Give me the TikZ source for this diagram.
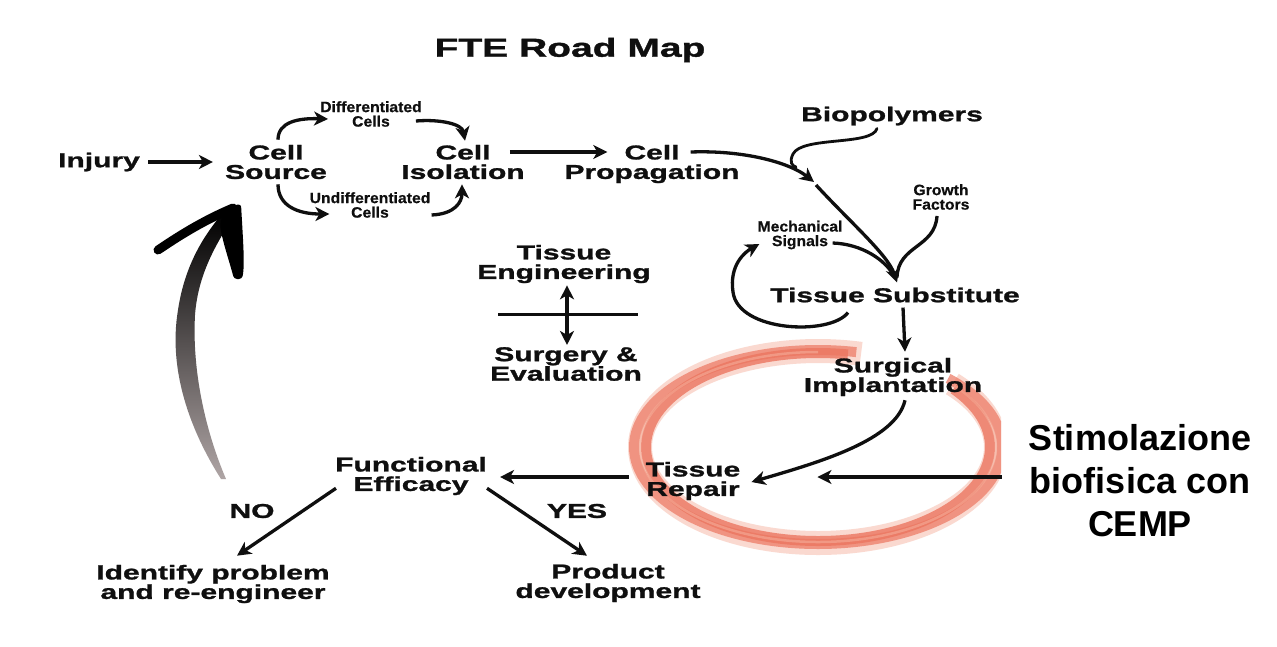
\documentclass[tikz,border=0pt]{standalone}
\usepackage{fontspec}
\usetikzlibrary{arrows.meta,calc}
\newfontfamily\widefont[FakeStretch=1.5,FakeBold=1.3]{Liberation Sans Bold}
\newfontfamily\smallfont[FakeStretch=1.05,FakeBold=0.6]{Liberation Sans Bold}
\newfontfamily\stimfont{Liberation Sans Bold}
\definecolor{ring}{RGB}{236,118,96}
\definecolor{ringlight}{RGB}{245,172,152}
\definecolor{shaftgrey}{RGB}{175,165,165}
\definecolor{ink}{RGB}{15,15,15}
\begin{document}
\begin{tikzpicture}[x=1pt,y=-1pt,
  lbl/.style={align=center,inner sep=2pt,text=ink,font={\widefont\fontsize{20}{19.5}\selectfont}},
  sml/.style={align=center,inner sep=2pt,text=ink,font={\smallfont\fontsize{15}{14.5}\selectfont}},
  arr/.style={ink,line width=3.3pt,-{Stealth[length=14pt,width=14pt,inset=4pt]}},
  dbl/.style={ink,line width=3.3pt,{Stealth[length=14pt,width=14pt,inset=4pt]}-{Stealth[length=14pt,width=14pt,inset=4pt]}},
  ln/.style={ink,line width=3.3pt},
  thinln/.style={ink,line width=2.8pt,line cap=round},
]
\fill[white] (0,0) rectangle (1277,646);
\useasboundingbox (0,0) rectangle (1277,646);

% red brush ring (open at top right, clipped at right)
\begin{scope}
\clip (0,0) rectangle (1001,646);
\draw[ringlight,line width=24pt,opacity=0.45] (818,447) ++(-41:178 and 96) arc [start angle=-41,end angle=284,x radius=178,y radius=96];
\draw[ring,line width=10pt,opacity=0.8] (818,447) ++(-38:172 and 94) arc [start angle=-38,end angle=280,x radius=172,y radius=94];
\draw[ring,line width=10pt,opacity=0.7] (818,447) ++(-45:184 and 97) arc [start angle=-45,end angle=282,x radius=184,y radius=97];
\draw[ringlight,line width=2.5pt,opacity=0.6] (818,447) ++(-40:178 and 95) arc [start angle=-40,end angle=270,x radius=178,y radius=95];
\end{scope}

% nodes
\node[lbl,font={\widefont\fontsize{26}{26}\selectfont}] (title) at (570,50) {FTE Road Map};
\node[lbl] (injury) at (99,162) {Injury};
\node[lbl] (cellsource) at (276,162) {Cell\\Source};
\node[sml] (diff) at (371,114) {Differentiated\\Cells};
\node[sml] (undiff) at (370,205) {Undifferentiated\\Cells};
\node[lbl] (cellisol) at (463,162) {Cell\\Isolation};
\node[lbl] (cellprop) at (652,164) {Cell\\Propagation};
\node[lbl] (biopoly) at (892,116) {Biopolymers};
\node[sml] (growth) at (941,197) {Growth\\Factors};
\node[sml] (mech) at (800,235) {Mechanical\\Signals};
\node[lbl] (tissuesub) at (895,295) {Tissue Substitute};
\node[lbl] (tisseng) at (564,264) {Tissue\\Engineering};
\node[lbl] (surgeval) at (566,364) {Surgery \&\\Evaluation};
\node[lbl] (surgical) at (893,377) {Surgical\\Implantation};
\node[lbl] (repair) at (693,481) {Tissue\\Repair};
\node[lbl] (functional) at (411,476) {Functional\\Efficacy};
\node[lbl] (no) at (252,511) {NO};
\node[lbl] (yes) at (577,511) {YES};
\node[lbl] (identify) at (213,584) {Identify problem\\and re-engineer};
\node[lbl] (product) at (608,583) {Product\\development};
\node[align=center,inner sep=2pt,text=black,font={\stimfont\fontsize{36}{43}\selectfont}] (stim) at (1140,481) {Stimolazione\\biofisica con\\CEMP};

\coordinate (junc) at (814,182);

% connectors
\draw[arr] ($(injury.east)+(6,0)$) -- ($(cellsource.west)+(-10,0)$);
\draw[arr] ($(cellsource.north)+(2,-3)$) .. controls (278,122) and (298,118) .. ($(diff.west)+(10,5)$);
\draw[arr] ($(cellsource.south)+(2,3)$) .. controls (278,206) and (298,214) .. ($(undiff.west)+(22,9)$);
\draw[arr] ($(diff.east)+(-8,7)$) .. controls (440,119) and (462,124) .. ($(cellisol.north)+(2,-2)$);
\draw[arr] ($(undiff.east)+(-1,10)$) .. controls (455,214) and (462,202) .. ($(cellisol.south)+(-1,3)$);
\draw[arr] ($(cellisol.east)+(-17,-10)$) -- ($(cellprop.west)+(45,-12)$);
\draw[arr] ($(cellprop.east)+(-51,-12)$) .. controls (745,150) and (790,163) .. (junc);
\draw[thinln] ($(biopoly.south)+(-15,1)$) .. controls (872,146) and (802,136) .. (793,154) .. controls (789,162) and (792,166) .. ($(junc)+(-18,-15)$);
\draw[ln] ($(growth.south)+(-4,4)$) .. controls (935,248) and (898,245) .. ($(tissuesub.north)+(2,-8)$);
\draw[ln] ($(mech.east)+(-12,8)$) .. controls (862,244) and (886,260) .. ($(tissuesub.north)+(0,-8)$);
\draw[arr] ($(junc)+(2,3)$) .. controls (850,222) and (888,255) .. ($(tissuesub.north)+(2,-3)$);
\draw[arr] ($(tissuesub.south)+(-47,8)$) .. controls (830,336) and (738,332) .. (733,292) .. controls (729,265) and (745,252) .. ($(mech.west)+(4,9)$);
\draw[arr] ($(tissuesub.south)+(8,3)$) -- ($(surgical.north)+(12,-4)$);
\draw[arr] ($(surgical.south)+(12,2)$) .. controls (896,440) and (820,462) .. ($(repair.east)+(9,1)$);
\draw[arr] ($(stim.west)+(-25,-4)$) -- ($(repair.east)+(75,-4)$);
\draw[arr] ($(repair.west)+(-15,-4)$) -- ($(functional.east)+(11,1)$);
\draw[arr] ($(functional.south west)+(3,-9)$) -- ($(identify.north)+(24,-7)$);
\draw[arr] ($(functional.south east)+(-2,-9)$) -- ($(product.north)+(-21,-6)$);

% tissue engineering / surgery cross
\draw[ln] ($(tisseng.south)+(-66,29)$) -- ($(tisseng.south)+(74,29)$);
\draw[dbl] ($(tisseng.south)+(3,0)$) -- ($(surgeval.north)+(1,0)$);

% big gradient arrow back to cell source
\shade[top color=black,middle color=black,bottom color=shaftgrey]
  (221,479) .. controls (190,430) and (168,370) .. (178,310)
  .. controls (184,270) and (200,240) .. (222,214) -- (236,213)
  .. controls (215,245) and (198,275) .. (195,315)
  .. controls (192,370) and (205,430) .. (226,479) -- cycle;
\draw[black,line width=9pt,line cap=round] (233,208) .. controls (200,222) and (176,238) .. (158,250);
\fill[black,rounded corners=3pt] (225,207) -- (241,204) .. controls (243,240) and (245,265) .. (242,279) -- (234,279) .. controls (229,260) and (222,240) .. (220,224) -- cycle;
\end{tikzpicture}
\end{document}
